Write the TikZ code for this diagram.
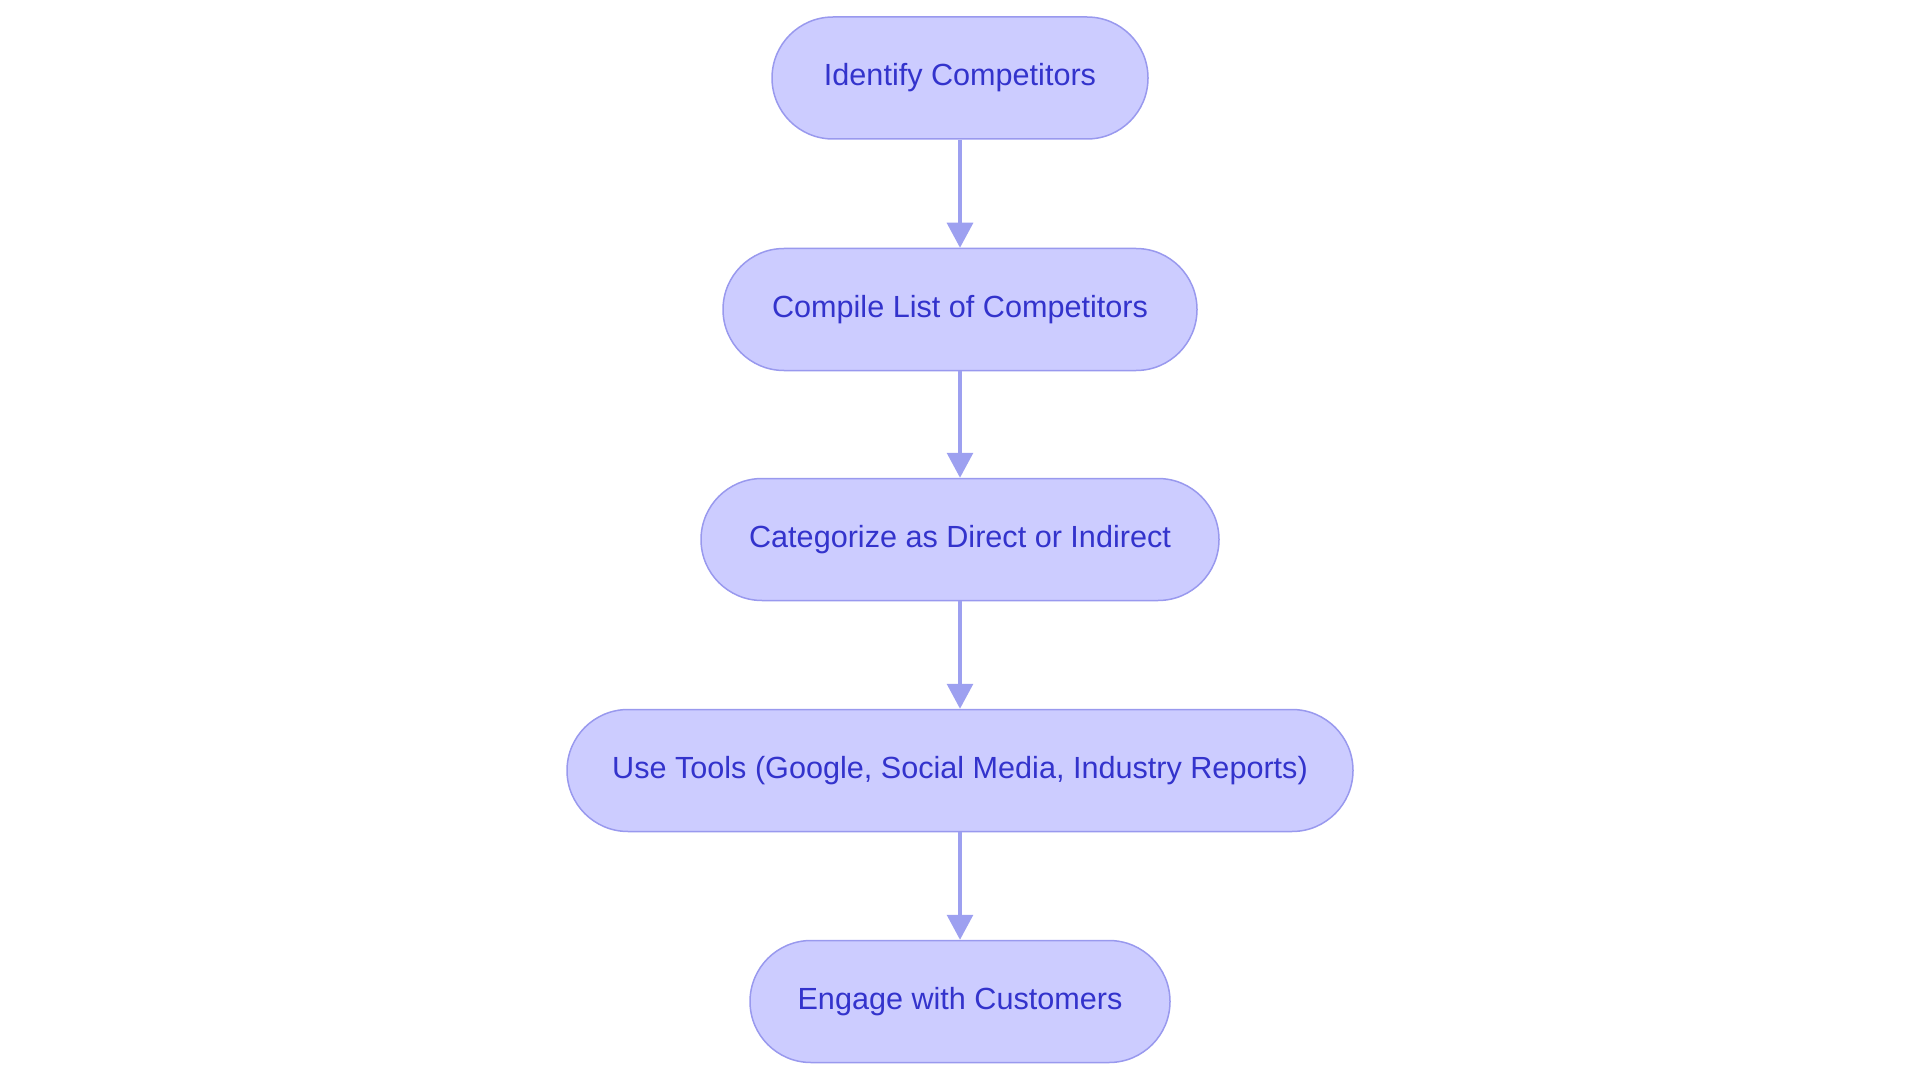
\documentclass[tikz,border=0pt]{standalone}
\usepackage{fontspec}
\setmainfont{Liberation Sans}
\usetikzlibrary{arrows.meta}
\definecolor{nodefill}{HTML}{CCCCFF}
\definecolor{nodeborder}{HTML}{9999EE}
\definecolor{nodetext}{HTML}{3333CC}
\definecolor{edgecol}{HTML}{9DA0F0}
\begin{document}
\begin{tikzpicture}[x=1pt,y=-1pt,
  stepbox/.style={draw=nodeborder, fill=nodefill, line width=1.5pt, rectangle,
    rounded corners=61pt, minimum height=122pt, inner sep=0pt,
    text=nodetext, font=\fontsize{30.6}{36}\selectfont},
  flow/.style={draw=edgecol, line width=3.2pt,
    -{Triangle[width=26pt,length=25pt]}}]
\useasboundingbox (0,0) rectangle (1920,1083);
\node[stepbox, minimum width=376pt] (n1) at (960,78) {Identify Competitors};
\node[stepbox, minimum width=474pt] (n2) at (960,309.5) {Compile List of Competitors};
\node[stepbox, minimum width=518pt] (n3) at (960,539.5) {Categorize as Direct or Indirect};
\node[stepbox, minimum width=786pt] (n4) at (960,770.5) {Use Tools (Google, Social Media, Industry Reports)};
\node[stepbox, minimum width=420pt] (n5) at (960,1001.5) {Engage with Customers};
\draw[flow] (n1) -- (n2);
\draw[flow] (n2) -- (n3);
\draw[flow] (n3) -- (n4);
\draw[flow] (n4) -- (n5);
\end{tikzpicture}
\end{document}
